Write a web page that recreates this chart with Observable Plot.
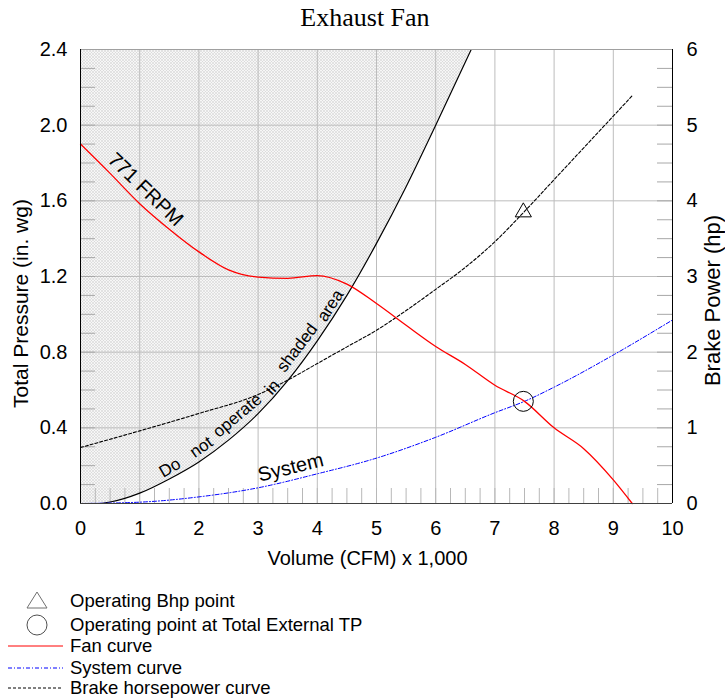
<!DOCTYPE html>
<html>
<head>
<meta charset="utf-8">
<script src="https://cdn.jsdelivr.net/npm/d3@7"></script>
<script src="https://cdn.jsdelivr.net/npm/@observablehq/plot@0.6"></script>
<style>
  body { margin: 0; background: #fff; font-family: "Liberation Sans", Arial, sans-serif; }
  #title { position: relative; left: 5px; width: 720px; height: 36px; line-height: 36px; text-align: center;
           font-family: "Liberation Serif", "Times New Roman", serif; font-size: 26px; color: #000; }
  #chart svg { display: block; }
  #legend svg { display: block; }
</style>
</head>
<body>
<div id="title">Exhaust Fan</div>
<div id="chart"></div>
<div id="legend"></div>
<script>
// ---------- data ----------
// Fan curve (771 FRPM): volume (CFM x 1,000) vs total pressure (in. wg)
const fanX  = [0, 0.5, 1, 1.5, 2, 2.5, 3, 3.5, 4, 4.5, 5, 5.5, 6, 6.5, 7, 7.5, 8, 8.5, 9, 9.32];
const fanTP = [1.90, 1.745, 1.585, 1.45, 1.33, 1.235, 1.197, 1.19, 1.205, 1.16, 1.057, 0.942, 0.83, 0.735, 0.625, 0.54, 0.40, 0.29, 0.125, 0];

// System curve
const sysX  = [0, 1, 2, 3, 4, 5, 6, 7, 7.5, 8, 9, 10];
const sysTP = [0, 0.007, 0.035, 0.083, 0.157, 0.24, 0.35, 0.48, 0.54, 0.615, 0.785, 0.97];

// Brake horsepower curve (hp, right axis)
const bhpX  = [0, 1, 2, 3, 3.5, 4, 4.5, 5, 5.5, 6, 6.5, 7, 7.5, 8, 8.5, 9, 9.32];
const bhpHp = [0.74, 0.96, 1.19, 1.44, 1.63, 1.85, 2.07, 2.29, 2.55, 2.83, 3.12, 3.46, 3.86, 4.28, 4.70, 5.12, 5.39];

// "Do not operate" boundary
const limX  = [0, 0.3, 0.5, 1, 1.5, 2, 2.5, 3, 3.5, 4, 4.5, 5, 5.5, 6, 6.6];
const limTP = [0, 0, 0.008, 0.055, 0.13, 0.22, 0.335, 0.475, 0.65, 0.86, 1.10, 1.375, 1.675, 2.0, 2.4];

// Operating point
const opVolume = [7.48];
const opTP     = [0.54];
const opBhp    = [3.85];

// Ticks
const xTicks  = [0, 1, 2, 3, 4, 5, 6, 7, 8, 9, 10];
const tpTicks = [0, 0.4, 0.8, 1.2, 1.6, 2.0, 2.4];
const hpTicks = [0, 1, 2, 3, 4, 5, 6];
const xMinor  = d3.range(0.25, 10, 0.25);
const tpMinor = d3.range(1, 24).map(i => i / 10);
const hpMinor = d3.range(1, 24).map(i => i / 4);
const hpPerTP = 6 / 2.4; // right axis 0–6 hp spans the same height as 0–2.4 in. wg

// Annotations
const fanLabel = ["771 FRPM"];
const fanLabelX = [1.1], fanLabelY = [1.66], fanLabelRot = [44];
const noteWords = ["Do", "not", "operate", "in", "shaded", "area"];
const noteX   = [1.51, 2.04, 2.65, 3.24, 3.66, 4.22];
const noteY   = [0.189, 0.298, 0.465, 0.615, 0.823, 1.046];
const noteRot = [-30, -35, -40, -48, -53, -57];
const sysLabel = ["System"];
const sysLabelX = [3.55], sysLabelY = [0.19], sysLabelRot = [-14];

// ---------- tables ----------
const fan = fanX.map((x, i) => ({x, y: fanTP[i]}));
const sys = sysX.map((x, i) => ({x, y: sysTP[i]}));
const bhp = bhpX.map((x, i) => ({x, y: bhpHp[i] / hpPerTP}));
const lim = limX.map((x, i) => ({x, y: limTP[i]}));
const op  = opVolume.map((x, i) => ({x, tp: opTP[i], hp: opBhp[i] / hpPerTP}));
const notes = noteWords.map((w, i) => ({w, x: noteX[i], y: noteY[i], r: noteRot[i]}));

// ---------- layout ----------
const W = 725, H = 539, mL = 80, mR = 53, mT = 13, mB = 72;
const plotW = W - mL - mR, plotH = H - mT - mB, tick = 15;
const yTop = tpTicks[tpTicks.length - 1];

const chart = Plot.plot({
  width: W, height: H,
  marginLeft: mL, marginRight: mR, marginTop: mT, marginBottom: mB,
  x: {domain: [0, 10]},
  y: {domain: [0, yTop]},
  style: {fontFamily: "'Liberation Sans', Arial, sans-serif", fontSize: "20px", color: "black", background: "white"},
  marks: [
    Plot.areaY(lim, {x: "x", y1: "y", y2: yTop, fill: "url(#hatch)", curve: "monotone-x"}),
    Plot.gridX(xTicks, {stroke: "#bdbdbd", strokeOpacity: 1}),
    Plot.gridY(tpTicks, {stroke: "#bdbdbd", strokeOpacity: 1}),
    Plot.ruleY(tpMinor, {insetRight: plotW - tick, stroke: "#a8a8a8"}),
    Plot.ruleY(hpMinor.map(h => h / hpPerTP), {insetLeft: plotW - tick, stroke: "#a8a8a8"}),
    Plot.ruleX(xMinor, {insetTop: plotH - tick, stroke: "#b8b8b8"}),
    Plot.line(lim, {x: "x", y: "y", stroke: "black", strokeWidth: 1.2, curve: "monotone-x"}),
    Plot.line(bhp, {x: "x", y: "y", stroke: "black", strokeWidth: 1.1, strokeDasharray: "3,2", curve: "monotone-x"}),
    Plot.line(sys, {x: "x", y: "y", stroke: "#0000ff", strokeWidth: 1, strokeDasharray: "4,2,1,2", curve: "monotone-x"}),
    Plot.line(fan, {x: "x", y: "y", stroke: "#ff0000", strokeWidth: 1.3, curve: "monotone-x"}),
    Plot.dot(op, {x: "x", y: "tp", r: 10, stroke: "black", fill: "none", strokeWidth: 1}),
    Plot.dot(op, {x: "x", y: "hp", symbol: "triangle", r: 6, stroke: "black", fill: "none", strokeWidth: 1}),
    Plot.text(fanLabel, {x: fanLabelX, y: fanLabelY, text: d => d, rotate: fanLabelRot[0], fontSize: 20}),
    Plot.text(notes, {x: "x", y: "y", text: "w", rotate: "r", fontSize: 17}),
    Plot.text(sysLabel, {x: sysLabelX, y: sysLabelY, text: d => d, rotate: sysLabelRot[0], fontSize: 20}),
    Plot.ruleY([yTop], {stroke: "#a0a0a0"}),
    Plot.ruleY([0], {stroke: "#404040"}),
    Plot.ruleX([0], {stroke: "black"}),
    Plot.ruleX([10], {stroke: "black"}),
    Plot.axisX(xTicks, {tickSize: 0, tickPadding: 17, label: null}),
    Plot.axisY(tpTicks, {anchor: "left", tickSize: 0, tickPadding: 13, tickFormat: d => d.toFixed(1), label: null}),
    Plot.axisY(hpTicks.map(h => h / hpPerTP), {anchor: "right", tickSize: 0, tickPadding: 14, tickFormat: d => String(Math.round(d * hpPerTP)), label: null}),
    Plot.text(["Volume (CFM) x 1,000"], {frameAnchor: "bottom", text: d => d, textAnchor: "middle", lineAnchor: "middle", dx: -9, dy: 55, fontSize: 20}),
    Plot.text(["Total Pressure (in. wg)"], {frameAnchor: "left", text: d => d, textAnchor: "middle", lineAnchor: "middle", rotate: -90, dx: -59, dy: 27, fontSize: 21}),
    Plot.text(["Brake Power (hp)"], {frameAnchor: "right", text: d => d, textAnchor: "middle", lineAnchor: "middle", rotate: -90, dx: 40, dy: 24, fontSize: 22})
  ]
});

const defs = document.createElementNS("http://www.w3.org/2000/svg", "defs");
defs.innerHTML = '<pattern id="hatch" width="3" height="3" patternUnits="userSpaceOnUse">' +
  '<rect width="3" height="3" fill="#f6f6f6"/>' +
  '<path d="M0,0L3,3M3,0L0,3" stroke="#d2d2d2" stroke-width="0.55"/></pattern>';
chart.insertBefore(defs, chart.firstChild);
document.getElementById("chart").appendChild(chart);

// ---------- legend ----------
const legendItems = [
  {label: "Operating Bhp point", kind: "triangle"},
  {label: "Operating point at Total External TP", kind: "circle"},
  {label: "Fan curve", kind: "line", stroke: "#ff0000", dash: null},
  {label: "System curve", kind: "line", stroke: "#0000ff", dash: "4,2,1,2"},
  {label: "Brake horsepower curve", kind: "line", stroke: "#000000", dash: "3,2"}
];
const legendRowY = [26, 50, 71, 93, 113];
const lg = d3.select("#legend").append("svg").attr("width", 725).attr("height", 125)
  .attr("font-family", "'Liberation Sans', Arial, sans-serif").attr("font-size", 18.5);
legendItems.forEach((it, i) => {
  const cy = legendRowY[i];
  if (it.kind === "triangle") {
    lg.append("path").attr("d", `M27,${cy + 7}L47,${cy + 7}L37,${cy - 9}Z`).attr("fill", "none").attr("stroke", "#707070");
  } else if (it.kind === "circle") {
    lg.append("circle").attr("cx", 37).attr("cy", cy).attr("r", 10).attr("fill", "none").attr("stroke", "#505050");
  } else {
    const l = lg.append("line").attr("x1", 8).attr("x2", 63).attr("y1", cy).attr("y2", cy).attr("stroke", it.stroke).attr("stroke-width", 1);
    if (it.dash) l.attr("stroke-dasharray", it.dash);
  }
  lg.append("text").attr("x", 70).attr("y", cy + 6).text(it.label);
});
</script>
</body>
</html>
